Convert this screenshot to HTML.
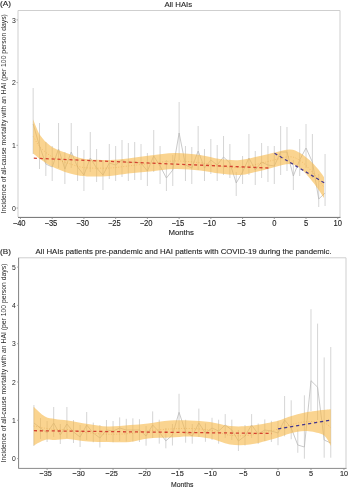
<!DOCTYPE html>
<html><head><meta charset="utf-8"><style>
html,body{margin:0;padding:0;background:#fff;width:350px;height:488px;overflow:hidden}
svg{display:block;filter:blur(0.3px)}
text{font-family:"Liberation Sans", sans-serif;fill:#262626;stroke:#262626;stroke-width:0.12px}
</style></head><body>
<svg width="350" height="488" viewBox="0 0 350 488">
<rect width="350" height="488" fill="#fff"/>
<path d="M18,217 V10.5 H340 V217" fill="none" stroke="#cfcfcf" stroke-width="1"/>
<g stroke="#d0d0d0" stroke-width="0.9"><line x1="33.15" y1="88.0" x2="33.15" y2="154.0"/><line x1="39.50" y1="123.0" x2="39.50" y2="169.0"/><line x1="45.84" y1="142.0" x2="45.84" y2="176.0"/><line x1="52.19" y1="146.0" x2="52.19" y2="181.0"/><line x1="58.54" y1="123.0" x2="58.54" y2="168.0"/><line x1="64.88" y1="152.0" x2="64.88" y2="184.0"/><line x1="71.23" y1="123.0" x2="71.23" y2="168.0"/><line x1="77.57" y1="146.0" x2="77.57" y2="181.0"/><line x1="83.92" y1="150.0" x2="83.92" y2="191.0"/><line x1="90.27" y1="132.0" x2="90.27" y2="172.0"/><line x1="96.61" y1="149.0" x2="96.61" y2="182.0"/><line x1="102.96" y1="160.0" x2="102.96" y2="190.0"/><line x1="109.30" y1="144.0" x2="109.30" y2="179.0"/><line x1="115.65" y1="146.0" x2="115.65" y2="181.0"/><line x1="122.00" y1="140.0" x2="122.00" y2="177.0"/><line x1="128.34" y1="143.0" x2="128.34" y2="181.0"/><line x1="134.69" y1="142.0" x2="134.69" y2="180.0"/><line x1="141.03" y1="144.0" x2="141.03" y2="180.0"/><line x1="147.38" y1="153.0" x2="147.38" y2="186.0"/><line x1="153.73" y1="130.0" x2="153.73" y2="172.0"/><line x1="160.07" y1="146.0" x2="160.07" y2="184.0"/><line x1="166.42" y1="160.0" x2="166.42" y2="191.0"/><line x1="172.76" y1="155.0" x2="172.76" y2="186.0"/><line x1="179.11" y1="102.0" x2="179.11" y2="160.0"/><line x1="185.46" y1="146.0" x2="185.46" y2="181.0"/><line x1="191.80" y1="147.0" x2="191.80" y2="184.0"/><line x1="198.15" y1="126.0" x2="198.15" y2="170.0"/><line x1="204.49" y1="149.0" x2="204.49" y2="181.0"/><line x1="210.84" y1="139.0" x2="210.84" y2="174.0"/><line x1="217.19" y1="145.0" x2="217.19" y2="181.0"/><line x1="223.53" y1="136.0" x2="223.53" y2="175.0"/><line x1="229.88" y1="144.0" x2="229.88" y2="178.0"/><line x1="236.22" y1="172.0" x2="236.22" y2="196.0"/><line x1="242.57" y1="156.0" x2="242.57" y2="184.0"/><line x1="248.92" y1="134.0" x2="248.92" y2="175.0"/><line x1="255.26" y1="151.0" x2="255.26" y2="185.0"/><line x1="261.61" y1="143.0" x2="261.61" y2="178.0"/><line x1="267.95" y1="146.0" x2="267.95" y2="182.0"/><line x1="274.30" y1="146.0" x2="274.30" y2="184.0"/><line x1="280.65" y1="126.0" x2="280.65" y2="175.0"/><line x1="286.99" y1="127.0" x2="286.99" y2="171.0"/><line x1="293.34" y1="160.0" x2="293.34" y2="190.0"/><line x1="299.68" y1="139.0" x2="299.68" y2="176.0"/><line x1="306.03" y1="124.0" x2="306.03" y2="168.0"/><line x1="312.38" y1="134.0" x2="312.38" y2="178.0"/><line x1="318.72" y1="174.0" x2="318.72" y2="207.0"/><line x1="325.07" y1="154.0" x2="325.07" y2="206.0"/></g><polyline fill="none" stroke="#b8b8b8" stroke-width="0.75" points="33.15,124.0 39.50,146.0 45.84,164.0 52.19,167.0 58.54,149.0 64.88,169.0 71.23,152.0 77.57,167.0 83.92,175.0 90.27,158.0 96.61,168.0 102.96,175.0 109.30,163.0 115.65,165.0 122.00,160.0 128.34,163.0 134.69,162.0 141.03,163.0 147.38,171.0 153.73,156.0 160.07,166.0 166.42,178.0 172.76,170.0 179.11,133.0 185.46,165.0 191.80,168.0 198.15,151.0 204.49,168.0 210.84,160.0 217.19,165.0 223.53,157.0 229.88,163.0 236.22,183.0 242.57,172.0 248.92,158.0 255.26,170.0 261.61,162.0 267.95,165.0 274.30,166.0 280.65,152.0 286.99,152.0 293.34,176.0 299.68,160.0 306.03,148.0 312.38,162.0 318.72,199.0 325.07,193.0"/><path d="M33.20,119.50 C34.33,122.08 37.20,130.67 40.00,135.00 C42.80,139.33 46.67,142.87 50.00,145.50 C53.33,148.13 56.67,149.33 60.00,150.80 C63.33,152.27 66.67,153.10 70.00,154.30 C73.33,155.50 76.67,157.13 80.00,158.00 C83.33,158.87 85.00,159.17 90.00,159.50 C95.00,159.83 103.67,160.17 110.00,160.00 C116.33,159.83 121.33,159.25 128.00,158.50 C134.67,157.75 142.17,156.42 150.00,155.50 C157.83,154.58 166.67,153.08 175.00,153.00 C183.33,152.92 192.50,154.00 200.00,155.00 C207.50,156.00 213.33,158.17 220.00,159.00 C226.67,159.83 233.33,160.50 240.00,160.00 C246.67,159.50 254.17,157.25 260.00,156.00 C265.83,154.75 270.00,153.58 275.00,152.50 C280.00,151.42 285.83,149.42 290.00,149.50 C294.17,149.58 296.67,151.17 300.00,153.00 C303.33,154.83 307.00,157.83 310.00,160.50 C313.00,163.17 315.67,166.25 318.00,169.00 C320.33,171.75 323.00,175.67 324.00,177.00 L324.00,198.00 C323.00,196.50 320.33,192.25 318.00,189.00 C315.67,185.75 313.00,182.00 310.00,178.50 C307.00,175.00 303.33,170.42 300.00,168.00 C296.67,165.58 294.17,164.17 290.00,164.00 C285.83,163.83 280.00,165.83 275.00,167.00 C270.00,168.17 265.83,169.67 260.00,171.00 C254.17,172.33 246.67,174.57 240.00,175.00 C233.33,175.43 226.67,174.35 220.00,173.60 C213.33,172.85 207.50,171.27 200.00,170.50 C192.50,169.73 183.33,168.83 175.00,169.00 C166.67,169.17 157.83,170.75 150.00,171.50 C142.17,172.25 134.67,172.75 128.00,173.50 C121.33,174.25 116.33,175.50 110.00,176.00 C103.67,176.50 95.00,176.53 90.00,176.50 C85.00,176.47 83.33,176.30 80.00,175.80 C76.67,175.30 73.33,174.47 70.00,173.50 C66.67,172.53 63.33,171.33 60.00,170.00 C56.67,168.67 53.33,167.33 50.00,165.50 C46.67,163.67 42.80,161.00 40.00,159.00 C37.20,157.00 34.33,154.42 33.20,153.50 Z" fill="#f7b746" fill-opacity="0.6"/><path d="M33.20,136.50 C34.33,138.25 37.20,143.83 40.00,147.00 C42.80,150.17 46.67,153.27 50.00,155.50 C53.33,157.73 56.67,159.00 60.00,160.40 C63.33,161.80 66.67,162.82 70.00,163.90 C73.33,164.98 76.67,166.22 80.00,166.90 C83.33,167.58 85.00,167.82 90.00,168.00 C95.00,168.18 103.67,168.33 110.00,168.00 C116.33,167.67 121.33,166.75 128.00,166.00 C134.67,165.25 142.17,164.33 150.00,163.50 C157.83,162.67 166.67,161.12 175.00,161.00 C183.33,160.88 192.50,161.87 200.00,162.75 C207.50,163.63 213.33,165.51 220.00,166.30 C226.67,167.09 233.33,167.97 240.00,167.50 C246.67,167.03 254.17,164.79 260.00,163.50 C265.83,162.21 270.00,160.88 275.00,159.75 C280.00,158.62 285.83,156.62 290.00,156.75 C294.17,156.88 296.67,158.38 300.00,160.50 C303.33,162.62 307.00,166.42 310.00,169.50 C313.00,172.58 315.67,176.00 318.00,179.00 C320.33,182.00 323.00,186.08 324.00,187.50" fill="none" stroke="#e39a3a" stroke-opacity="0.5" stroke-width="0.8" stroke-dasharray="1 1.6"/><line x1="33.8" y1="158.2" x2="268.5" y2="168.0" stroke="#d4412f" stroke-width="1.3" stroke-dasharray="3.1 2.84"/><line x1="274.5" y1="153.2" x2="324.5" y2="183.0" stroke="#44368f" stroke-width="1.25" stroke-dasharray="3.2 2.87"/>
<line x1="18" y1="217.4" x2="340.5" y2="217.4" stroke="#6e6e6e" stroke-width="1"/>
<line x1="16.5" y1="208.0" x2="18" y2="208.0" stroke="#999" stroke-width="0.8"/>
<text transform="translate(13.9,210.75) scale(1,1.08)" font-size="6.9" text-anchor="middle" style="stroke-width:0">0</text>
<line x1="16.5" y1="145.3" x2="18" y2="145.3" stroke="#999" stroke-width="0.8"/>
<text transform="translate(13.9,148.05) scale(1,1.08)" font-size="6.9" text-anchor="middle" style="stroke-width:0">1</text>
<line x1="16.5" y1="82.6" x2="18" y2="82.6" stroke="#999" stroke-width="0.8"/>
<text transform="translate(13.9,85.35) scale(1,1.08)" font-size="6.9" text-anchor="middle" style="stroke-width:0">2</text>
<line x1="16.5" y1="19.9" x2="18" y2="19.9" stroke="#999" stroke-width="0.8"/>
<text transform="translate(13.9,22.65) scale(1,1.08)" font-size="6.9" text-anchor="middle" style="stroke-width:0">3</text>
<line x1="20.46" y1="217.4" x2="20.46" y2="219" stroke="#888" stroke-width="0.8"/>
<text transform="translate(19.16,225.6) scale(1,1.14)" font-size="7.6" text-anchor="middle">−40</text>
<line x1="52.19" y1="217.4" x2="52.19" y2="219" stroke="#888" stroke-width="0.8"/>
<text transform="translate(50.89,225.6) scale(1,1.14)" font-size="7.6" text-anchor="middle">−35</text>
<line x1="83.92" y1="217.4" x2="83.92" y2="219" stroke="#888" stroke-width="0.8"/>
<text transform="translate(82.62,225.6) scale(1,1.14)" font-size="7.6" text-anchor="middle">−30</text>
<line x1="115.65" y1="217.4" x2="115.65" y2="219" stroke="#888" stroke-width="0.8"/>
<text transform="translate(114.35,225.6) scale(1,1.14)" font-size="7.6" text-anchor="middle">−25</text>
<line x1="147.38" y1="217.4" x2="147.38" y2="219" stroke="#888" stroke-width="0.8"/>
<text transform="translate(146.08,225.6) scale(1,1.14)" font-size="7.6" text-anchor="middle">−20</text>
<line x1="179.11" y1="217.4" x2="179.11" y2="219" stroke="#888" stroke-width="0.8"/>
<text transform="translate(177.81,225.6) scale(1,1.14)" font-size="7.6" text-anchor="middle">−15</text>
<line x1="210.84" y1="217.4" x2="210.84" y2="219" stroke="#888" stroke-width="0.8"/>
<text transform="translate(209.54,225.6) scale(1,1.14)" font-size="7.6" text-anchor="middle">−10</text>
<line x1="242.57" y1="217.4" x2="242.57" y2="219" stroke="#888" stroke-width="0.8"/>
<text transform="translate(241.27,225.6) scale(1,1.14)" font-size="7.6" text-anchor="middle">−5</text>
<line x1="274.30" y1="217.4" x2="274.30" y2="219" stroke="#888" stroke-width="0.8"/>
<text transform="translate(274.30,225.6) scale(1,1.14)" font-size="7.6" text-anchor="middle">0</text>
<line x1="306.03" y1="217.4" x2="306.03" y2="219" stroke="#888" stroke-width="0.8"/>
<text transform="translate(306.03,225.6) scale(1,1.14)" font-size="7.6" text-anchor="middle">5</text>
<line x1="337.76" y1="217.4" x2="337.76" y2="219" stroke="#888" stroke-width="0.8"/>
<text transform="translate(337.76,225.6) scale(1,1.14)" font-size="7.6" text-anchor="middle">10</text>
<text x="181.2" y="235.4" font-size="7.8" text-anchor="middle">Months</text>
<text x="0" y="5.7" font-size="7.6" textLength="11" lengthAdjust="spacingAndGlyphs">(A)</text>
<text x="178.3" y="7.2" font-size="7.8" text-anchor="middle">All HAIs</text>
<text transform="translate(5.8,113.8) rotate(-90)" style="stroke-width:0" font-size="6.83" text-anchor="middle">Incidence of all-cause mortality with an HAI (per 100 person days)</text>
<path d="M18.5,468.4 V257.8 H346 V468.4" fill="none" stroke="#cfcfcf" stroke-width="1"/>
<g stroke="#d0d0d0" stroke-width="0.9"><line x1="33.91" y1="405.0" x2="33.91" y2="446.0"/><line x1="40.51" y1="418.0" x2="40.51" y2="439.0"/><line x1="47.10" y1="421.0" x2="47.10" y2="442.0"/><line x1="53.70" y1="407.0" x2="53.70" y2="437.0"/><line x1="60.30" y1="424.0" x2="60.30" y2="444.0"/><line x1="66.90" y1="407.0" x2="66.90" y2="438.0"/><line x1="73.49" y1="420.0" x2="73.49" y2="443.0"/><line x1="80.09" y1="425.0" x2="80.09" y2="447.0"/><line x1="86.69" y1="412.0" x2="86.69" y2="440.0"/><line x1="93.28" y1="422.6" x2="93.28" y2="442.3"/><line x1="99.88" y1="425.0" x2="99.88" y2="447.5"/><line x1="106.48" y1="420.0" x2="106.48" y2="440.6"/><line x1="113.07" y1="421.0" x2="113.07" y2="442.3"/><line x1="119.67" y1="417.4" x2="119.67" y2="441.0"/><line x1="126.27" y1="418.8" x2="126.27" y2="441.5"/><line x1="132.87" y1="418.3" x2="132.87" y2="441.5"/><line x1="139.46" y1="419.2" x2="139.46" y2="442.0"/><line x1="146.06" y1="426.0" x2="146.06" y2="445.7"/><line x1="152.66" y1="411.4" x2="152.66" y2="438.0"/><line x1="159.25" y1="419.7" x2="159.25" y2="443.7"/><line x1="165.85" y1="428.0" x2="165.85" y2="448.3"/><line x1="172.45" y1="424.0" x2="172.45" y2="445.5"/><line x1="179.04" y1="393.8" x2="179.04" y2="432.0"/><line x1="185.64" y1="419.7" x2="185.64" y2="442.7"/><line x1="192.24" y1="424.0" x2="192.24" y2="443.7"/><line x1="198.84" y1="408.6" x2="198.84" y2="437.0"/><line x1="205.43" y1="423.4" x2="205.43" y2="441.8"/><line x1="212.03" y1="417.8" x2="212.03" y2="440.0"/><line x1="218.63" y1="419.7" x2="218.63" y2="443.7"/><line x1="225.22" y1="414.1" x2="225.22" y2="438.0"/><line x1="231.82" y1="419.7" x2="231.82" y2="440.0"/><line x1="238.42" y1="430.0" x2="238.42" y2="451.0"/><line x1="245.01" y1="425.0" x2="245.01" y2="445.5"/><line x1="251.61" y1="414.1" x2="251.61" y2="438.0"/><line x1="258.21" y1="423.5" x2="258.21" y2="443.9"/><line x1="264.81" y1="419.4" x2="264.81" y2="441.0"/><line x1="271.40" y1="420.8" x2="271.40" y2="442.0"/><line x1="278.00" y1="420.8" x2="278.00" y2="445.2"/><line x1="284.60" y1="396.0" x2="284.60" y2="436.3"/><line x1="291.19" y1="400.3" x2="291.19" y2="439.2"/><line x1="297.79" y1="429.5" x2="297.79" y2="452.8"/><line x1="304.39" y1="395.3" x2="304.39" y2="458.7"/><line x1="310.99" y1="309.2" x2="310.99" y2="411.0"/><line x1="317.58" y1="323.6" x2="317.58" y2="420.0"/><line x1="324.18" y1="357.4" x2="324.18" y2="457.7"/><line x1="330.78" y1="347.0" x2="330.78" y2="457.7"/></g><polyline fill="none" stroke="#b8b8b8" stroke-width="0.75" points="33.91,423.0 40.51,428.0 47.10,433.0 53.70,423.0 60.30,435.0 66.90,424.0 73.49,432.0 80.09,437.0 86.69,425.0 93.28,433.0 99.88,438.0 106.48,430.0 113.07,431.0 119.67,428.0 126.27,430.0 132.87,430.0 139.46,430.0 146.06,436.0 152.66,425.0 159.25,432.0 165.85,440.9 172.45,435.0 179.04,412.3 185.64,432.0 192.24,436.0 198.84,423.0 205.43,433.0 212.03,428.0 218.63,431.0 225.22,425.0 231.82,430.0 238.42,441.0 245.01,436.0 251.61,425.0 258.21,434.0 264.81,430.0 271.40,431.0 278.00,433.0 284.60,420.0 291.19,428.0 297.79,445.0 304.39,447.0 310.99,380.7 317.58,387.2 324.18,440.0 330.78,443.0"/><path d="M33.60,406.70 C35.50,408.33 41.43,414.45 45.00,416.50 C48.57,418.55 51.17,418.33 55.00,419.00 C58.83,419.67 62.50,419.67 68.00,420.50 C73.50,421.33 81.33,423.00 88.00,424.00 C94.67,425.00 101.00,426.33 108.00,426.50 C115.00,426.67 123.33,425.52 130.00,425.00 C136.67,424.48 141.33,424.15 148.00,423.40 C154.67,422.65 163.00,420.98 170.00,420.50 C177.00,420.02 183.33,420.25 190.00,420.50 C196.67,420.75 203.33,421.08 210.00,422.00 C216.67,422.92 223.33,425.37 230.00,426.00 C236.67,426.63 242.50,426.55 250.00,425.80 C257.50,425.05 268.33,423.05 275.00,421.50 C281.67,419.95 285.00,418.00 290.00,416.50 C295.00,415.00 300.00,413.53 305.00,412.50 C310.00,411.47 316.50,410.75 320.00,410.30 C323.50,409.85 324.20,409.97 326.00,409.80 C327.80,409.63 330.00,409.38 330.80,409.30 L330.80,446.00 C330.00,444.58 327.80,439.58 326.00,437.50 C324.20,435.42 323.50,434.58 320.00,433.50 C316.50,432.42 310.00,431.00 305.00,431.00 C300.00,431.00 295.00,432.25 290.00,433.50 C285.00,434.75 281.67,436.67 275.00,438.50 C268.33,440.33 257.50,443.50 250.00,444.50 C242.50,445.50 236.67,445.50 230.00,444.50 C223.33,443.50 216.67,439.83 210.00,438.50 C203.33,437.17 196.67,436.67 190.00,436.50 C183.33,436.33 177.00,437.17 170.00,437.50 C163.00,437.83 154.67,437.75 148.00,438.50 C141.33,439.25 136.67,441.42 130.00,442.00 C123.33,442.58 115.00,442.08 108.00,442.00 C101.00,441.92 94.67,442.00 88.00,441.50 C81.33,441.00 73.50,439.25 68.00,439.00 C62.50,438.75 58.83,439.85 55.00,440.00 C51.17,440.15 48.57,439.00 45.00,439.90 C41.43,440.80 35.50,444.48 33.60,445.40 Z" fill="#f7b746" fill-opacity="0.6"/><path d="M33.60,426.05 C35.50,426.41 41.43,427.62 45.00,428.20 C48.57,428.77 51.17,429.24 55.00,429.50 C58.83,429.76 62.50,429.21 68.00,429.75 C73.50,430.29 81.33,432.00 88.00,432.75 C94.67,433.50 101.00,434.12 108.00,434.25 C115.00,434.38 123.33,434.05 130.00,433.50 C136.67,432.95 141.33,431.70 148.00,430.95 C154.67,430.20 163.00,429.41 170.00,429.00 C177.00,428.59 183.33,428.29 190.00,428.50 C196.67,428.71 203.33,429.12 210.00,430.25 C216.67,431.38 223.33,434.43 230.00,435.25 C236.67,436.07 242.50,436.02 250.00,435.15 C257.50,434.27 268.33,431.69 275.00,430.00 C281.67,428.31 285.00,426.38 290.00,425.00 C295.00,423.62 300.00,422.27 305.00,421.75 C310.00,421.23 316.50,421.58 320.00,421.90 C323.50,422.22 324.20,422.69 326.00,423.65 C327.80,424.61 330.00,426.98 330.80,427.65" fill="none" stroke="#e39a3a" stroke-opacity="0.5" stroke-width="0.8" stroke-dasharray="1 1.6"/><line x1="33.9" y1="430.7" x2="271.8" y2="433.5" stroke="#d4412f" stroke-width="1.3" stroke-dasharray="3.1 2.84"/><line x1="278.1" y1="428.9" x2="330.6" y2="420.1" stroke="#44368f" stroke-width="1.25" stroke-dasharray="3.2 2.87"/>
<line x1="18.6" y1="257.8" x2="18.6" y2="468.4" stroke="#858585" stroke-width="1"/>
<line x1="18.5" y1="468.4" x2="346.5" y2="468.4" stroke="#8a8a8a" stroke-width="1"/>
<line x1="17" y1="458.6" x2="18.6" y2="458.6" stroke="#999" stroke-width="0.8"/>
<text transform="translate(13.9,461.30) scale(1,1.08)" font-size="6.8" text-anchor="middle" style="stroke-width:0">0</text>
<line x1="17" y1="420.3" x2="18.6" y2="420.3" stroke="#999" stroke-width="0.8"/>
<text transform="translate(13.9,423.00) scale(1,1.08)" font-size="6.8" text-anchor="middle" style="stroke-width:0">1</text>
<line x1="17" y1="382.0" x2="18.6" y2="382.0" stroke="#999" stroke-width="0.8"/>
<text transform="translate(13.9,384.70) scale(1,1.08)" font-size="6.8" text-anchor="middle" style="stroke-width:0">2</text>
<line x1="17" y1="343.7" x2="18.6" y2="343.7" stroke="#999" stroke-width="0.8"/>
<text transform="translate(13.9,346.40) scale(1,1.08)" font-size="6.8" text-anchor="middle" style="stroke-width:0">3</text>
<line x1="17" y1="305.4" x2="18.6" y2="305.4" stroke="#999" stroke-width="0.8"/>
<text transform="translate(13.9,308.10) scale(1,1.08)" font-size="6.8" text-anchor="middle" style="stroke-width:0">4</text>
<line x1="17" y1="267.1" x2="18.6" y2="267.1" stroke="#999" stroke-width="0.8"/>
<text transform="translate(13.9,269.80) scale(1,1.08)" font-size="6.8" text-anchor="middle" style="stroke-width:0">5</text>
<line x1="47.10" y1="468.4" x2="47.10" y2="470" stroke="#888" stroke-width="0.8"/>
<text transform="translate(45.60,475.9) scale(1,1.08)" font-size="7.3" text-anchor="middle">−35</text>
<line x1="80.09" y1="468.4" x2="80.09" y2="470" stroke="#888" stroke-width="0.8"/>
<text transform="translate(78.59,475.9) scale(1,1.08)" font-size="7.3" text-anchor="middle">−30</text>
<line x1="113.07" y1="468.4" x2="113.07" y2="470" stroke="#888" stroke-width="0.8"/>
<text transform="translate(111.57,475.9) scale(1,1.08)" font-size="7.3" text-anchor="middle">−25</text>
<line x1="146.06" y1="468.4" x2="146.06" y2="470" stroke="#888" stroke-width="0.8"/>
<text transform="translate(144.56,475.9) scale(1,1.08)" font-size="7.3" text-anchor="middle">−20</text>
<line x1="179.04" y1="468.4" x2="179.04" y2="470" stroke="#888" stroke-width="0.8"/>
<text transform="translate(177.54,475.9) scale(1,1.08)" font-size="7.3" text-anchor="middle">−15</text>
<line x1="212.03" y1="468.4" x2="212.03" y2="470" stroke="#888" stroke-width="0.8"/>
<text transform="translate(210.53,475.9) scale(1,1.08)" font-size="7.3" text-anchor="middle">−10</text>
<line x1="245.01" y1="468.4" x2="245.01" y2="470" stroke="#888" stroke-width="0.8"/>
<text transform="translate(243.51,475.9) scale(1,1.08)" font-size="7.3" text-anchor="middle">−5</text>
<line x1="278.00" y1="468.4" x2="278.00" y2="470" stroke="#888" stroke-width="0.8"/>
<text transform="translate(278.00,475.9) scale(1,1.08)" font-size="7.3" text-anchor="middle">0</text>
<line x1="310.99" y1="468.4" x2="310.99" y2="470" stroke="#888" stroke-width="0.8"/>
<text transform="translate(310.99,475.9) scale(1,1.08)" font-size="7.3" text-anchor="middle">5</text>
<line x1="343.97" y1="468.4" x2="343.97" y2="470" stroke="#888" stroke-width="0.8"/>
<text transform="translate(343.97,475.9) scale(1,1.08)" font-size="7.3" text-anchor="middle">10</text>
<text x="182.2" y="487" font-size="7.1" text-anchor="middle" textLength="22.4" lengthAdjust="spacingAndGlyphs">Months</text>
<text x="0" y="254.4" font-size="7.6" textLength="10.9" lengthAdjust="spacingAndGlyphs">(B)</text>
<text x="183.6" y="253.7" font-size="7.8" text-anchor="middle">All HAIs patients pre-pandemic and HAI patients with COVID-19 during the pandemic.</text>
<text transform="translate(5.8,363) rotate(-90)" style="stroke-width:0" font-size="6.82" text-anchor="middle">Incidence of all-cause mortality with an HAI (per 100 person days)</text>
</svg>
</body></html>
